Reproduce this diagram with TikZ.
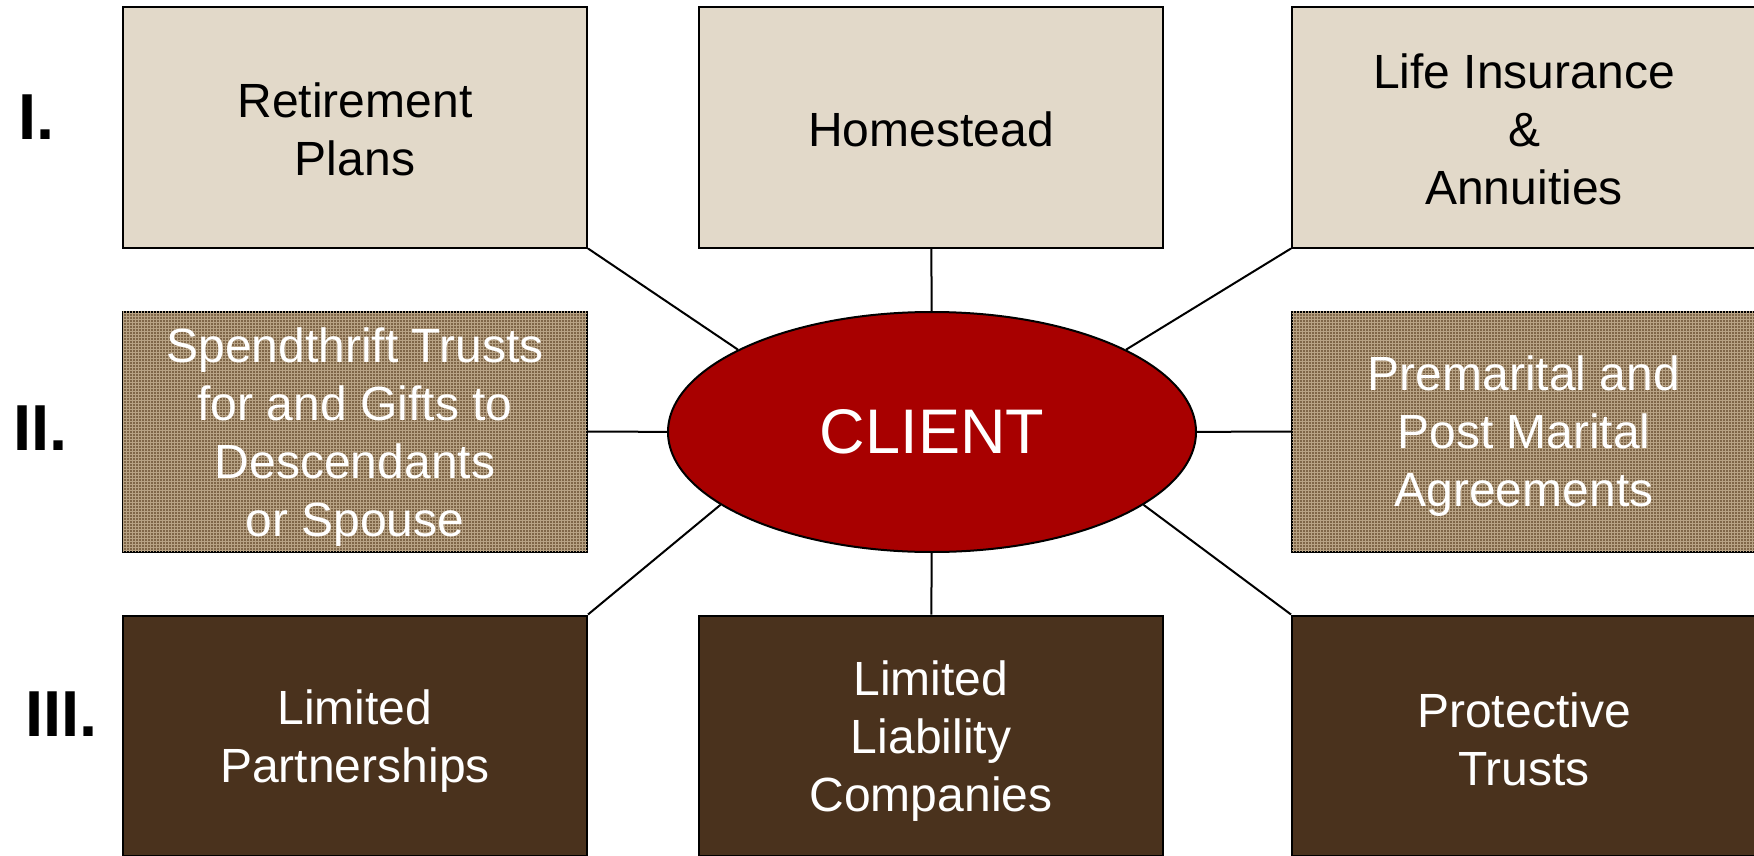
\documentclass[tikz,border=0pt]{standalone}
\usepackage{fontspec}
\setmainfont{Liberation Sans}
\usetikzlibrary{shapes.geometric,patterns}
\definecolor{beige}{HTML}{E2D9C9}
\definecolor{texbrown}{HTML}{7F6648}
\definecolor{texlight}{HTML}{B8A385}
\definecolor{darkbrown}{HTML}{4A321D}
\definecolor{clientred}{HTML}{A80000}
\tikzset{
  box/.style={rectangle, draw=black, line width=2pt, minimum width=464pt, minimum height=240pt,
    inner sep=0pt},
  boxtext/.style={inner sep=0pt, align=center, font=\fontsize{48}{58}\selectfont},
  rowone/.style={box, fill=beige},
  rowtwo/.style={box, fill=texbrown, postaction={pattern=grid, pattern color=texlight}},
  rowthree/.style={box, fill=darkbrown},
  numeral/.style={anchor=base west, inner sep=0pt, font=\fontsize{65}{70}\selectfont\bfseries},
  link/.style={draw=black, line width=2pt}
}
\begin{document}
\begin{tikzpicture}[x=1pt,y=-1pt]
\useasboundingbox (0,0) rectangle (1754,856);
% boxes
\node[rowone] (ret) at (355,127.5) {};
\node[rowone] (home) at (931,127.5) {};
\node[rowone] (life) at (1524,127.5) {};
\node[rowtwo] (spend) at (355,431.5) {};
\node[rowtwo] (prem) at (1524,431.5) {};
\node[rowthree] (lp) at (355,735.5) {};
\node[rowthree] (llc) at (931,735.5) {};
\node[rowthree] (prot) at (1524,735.5) {};
% box texts
\node[boxtext, text=black] (rett) at ([yshift=-2pt]ret.center) {Retirement\\Plans};
\node[boxtext, text=black] (homet) at ([yshift=-2pt]home.center) {Homestead};
\node[boxtext, text=black] (lifet) at ([yshift=-2pt]life.center) {Life Insurance\\\&\\Annuities};
\node[boxtext, text=white] (spendt) at ([yshift=-6pt]spend.center) {Spendthrift Trusts\\for and Gifts to\\Descendants\\or Spouse};
\node[boxtext, text=white] (premt) at ([yshift=-5pt]prem.center) {Premarital and\\Post Marital\\Agreements};
\node[boxtext, text=white] (lpt) at ([yshift=-6pt]lp.center) {Limited\\Partnerships};
\node[boxtext, text=white] (llct) at ([yshift=-6pt]llc.center) {Limited\\Liability\\Companies};
\node[boxtext, text=white] (prott) at ([yshift=-4pt]prot.center) {Protective\\Trusts};
% client
\node[ellipse, draw=black, line width=2pt, fill=clientred, text=white, minimum width=528pt,
  minimum height=240pt, inner sep=0pt, font=\fontsize{63}{70}\selectfont] (client) at (932,432) {CLIENT};
% connectors
\draw[link] (ret.south east) -- (client.157);
\draw[link] (home) -- (client);
\draw[link] (life.south west) -- (client.23);
\draw[link] (spend) -- (client);
\draw[link] (prem) -- (client);
\draw[link] (lp.north east) -- (client.199);
\draw[link] (llc) -- (client);
\draw[link] (prot.north west) -- (client.341);
% numerals
\node[numeral] (n1) at (18,140) {I.};
\node[numeral] (n2) at (13,450) {II.};
\node[numeral] (n3) at (25,736) {III.};
\end{tikzpicture}
\end{document}
